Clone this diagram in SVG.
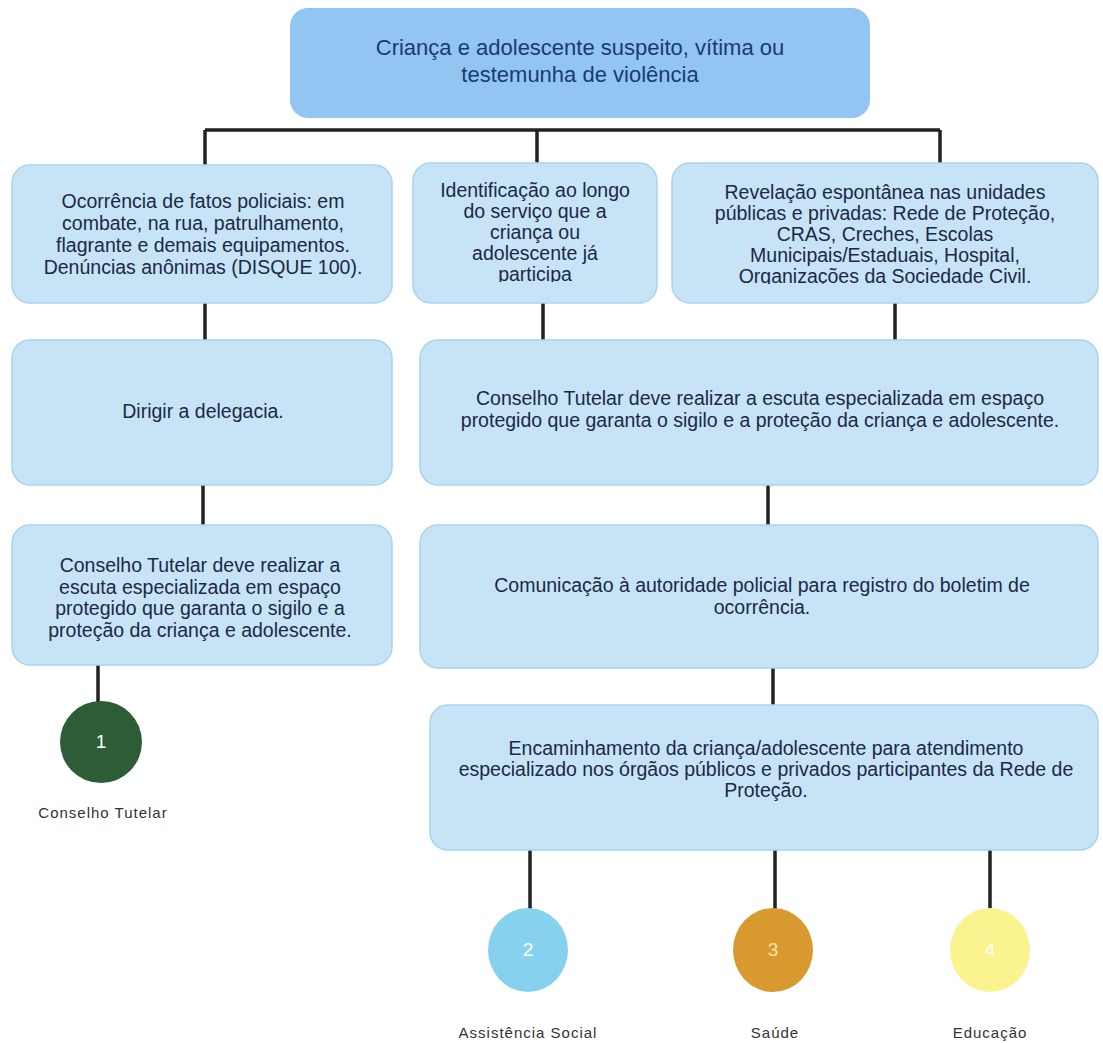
<svg xmlns="http://www.w3.org/2000/svg" width="1103" height="1043" viewBox="0 0 1103 1043">
<defs>
<style>
.box{fill:#c6e4f5;stroke:#a8d4ef;stroke-width:1.5}
.top{fill:#92c5f1;stroke:none}
.t{font-family:"Liberation Sans",Arial,sans-serif;font-size:19.5px;fill:#1c2848;text-anchor:middle}
.tt{font-family:"Liberation Sans",Arial,sans-serif;font-size:22px;fill:#1a3b72;text-anchor:middle}
.lbl{font-family:"Liberation Sans",Arial,sans-serif;font-size:15px;fill:#333;text-anchor:middle;letter-spacing:1px}
.num{font-family:"Liberation Sans",Arial,sans-serif;font-size:19px;fill:#ffffff;text-anchor:middle}
.c{stroke:#222;stroke-width:3.5;fill:none}
</style>
<clipPath id="clipMid"><rect x="413" y="160" width="250" height="122"/></clipPath>
<clipPath id="clipRight"><rect x="672" y="160" width="430" height="124"/></clipPath>
</defs>
<rect width="1103" height="1043" fill="#ffffff"/>
<g id="connectors">
<path class="c" d="M205 130 H940"/>
<path class="c" d="M205 130 V165"/>
<path class="c" d="M537 130 V163"/>
<path class="c" d="M940 130 V163"/>
<path class="c" d="M205 303 V340"/>
<path class="c" d="M543 303 V340"/>
<path class="c" d="M895 303 V340"/>
<path class="c" d="M203 485 V525"/>
<path class="c" d="M768 485 V525"/>
<path class="c" d="M98 665 V702"/>
<path class="c" d="M773 668 V705"/>
<path class="c" d="M530 850 V909"/>
<path class="c" d="M775 850 V909"/>
<path class="c" d="M990 850 V909"/>
</g>
<g id="n-top">
<rect class="top" x="290" y="8" width="580" height="110" rx="18"/>
<text class="tt" x="580" y="55">Criança e adolescente suspeito, vítima ou</text>
<text class="tt" x="580" y="82">testemunha de violência</text>
</g>
<g id="n-ocorrencia">
<rect class="box" x="12" y="165" width="380" height="138" rx="18"/>
<text class="t" x="203" y="208">Ocorrência de fatos policiais: em</text>
<text class="t" x="203" y="230">combate, na rua, patrulhamento,</text>
<text class="t" x="203" y="252">flagrante e demais equipamentos.</text>
<text class="t" x="203" y="274">Denúncias anônimas (DISQUE 100).</text>
</g>
<g id="n-identificacao">
<rect class="box" x="413" y="163" width="244" height="140" rx="18"/>
<g clip-path="url(#clipMid)">
<text class="t" x="535" y="197">Identificação ao longo</text>
<text class="t" x="535" y="218">do serviço que a</text>
<text class="t" x="535" y="239">criança ou</text>
<text class="t" x="535" y="260">adolescente já</text>
<text class="t" x="535" y="281">participa</text>
</g>
</g>
<g id="n-revelacao">
<rect class="box" x="672" y="163" width="426" height="140" rx="18"/>
<g clip-path="url(#clipRight)">
<text class="t" x="885" y="199">Revelação espontânea nas unidades</text>
<text class="t" x="885" y="220">públicas e privadas: Rede de Proteção,</text>
<text class="t" x="885" y="241">CRAS, Creches, Escolas</text>
<text class="t" x="885" y="262">Municipais/Estaduais, Hospital,</text>
<text class="t" x="885" y="283">Organizações da Sociedade Civil.</text>
</g>
</g>
<g id="n-dirigir">
<rect class="box" x="12" y="340" width="380" height="145" rx="18"/>
<text class="t" x="203" y="418">Dirigir a delegacia.</text>
</g>
<g id="n-conselho-right">
<rect class="box" x="420" y="340" width="678" height="145" rx="18"/>
<text class="t" x="760" y="405">Conselho Tutelar deve realizar a escuta especializada em espaço</text>
<text class="t" x="760" y="427">protegido que garanta o sigilo e a proteção da criança e adolescente.</text>
</g>
<g id="n-conselho-left">
<rect class="box" x="12" y="525" width="380" height="140" rx="18"/>
<text class="t" x="200" y="572">Conselho Tutelar deve realizar a</text>
<text class="t" x="200" y="594">escuta especializada em espaço</text>
<text class="t" x="200" y="615">protegido que garanta o sigilo e a</text>
<text class="t" x="200" y="637">proteção da criança e adolescente.</text>
</g>
<g id="n-comunicacao">
<rect class="box" x="420" y="525" width="678" height="143" rx="18"/>
<text class="t" x="762" y="592">Comunicação à autoridade policial para registro do boletim de</text>
<text class="t" x="762" y="614">ocorrência.</text>
</g>
<g id="n-encaminhamento">
<rect class="box" x="430" y="705" width="668" height="145" rx="18"/>
<text class="t" x="766" y="755">Encaminhamento da criança/adolescente para atendimento</text>
<text class="t" x="766" y="776">especializado nos órgãos públicos e privados participantes da Rede de</text>
<text class="t" x="766" y="797">Proteção.</text>
</g>
<g id="n-1">
<circle cx="101" cy="742" r="41" fill="#2c5d36"/>
<text class="num" x="101" y="748">1</text>
<text class="lbl" x="103" y="818">Conselho Tutelar</text>
</g>
<g id="n-2">
<ellipse cx="528" cy="950" rx="40" ry="42" fill="#86d2ee"/>
<text class="num" x="528" y="956">2</text>
<text class="lbl" x="528" y="1038">Assistência Social</text>
</g>
<g id="n-3">
<ellipse cx="773" cy="950" rx="40" ry="42" fill="#d8992f"/>
<text class="num" x="773" y="956" style="fill:#f6e7a0">3</text>
<text class="lbl" x="775" y="1038">Saúde</text>
</g>
<g id="n-4">
<ellipse cx="990" cy="950" rx="40" ry="42" fill="#fbf290"/>
<text class="num" x="990" y="956">4</text>
<text class="lbl" x="990" y="1038">Educação</text>
</g>
</svg>
